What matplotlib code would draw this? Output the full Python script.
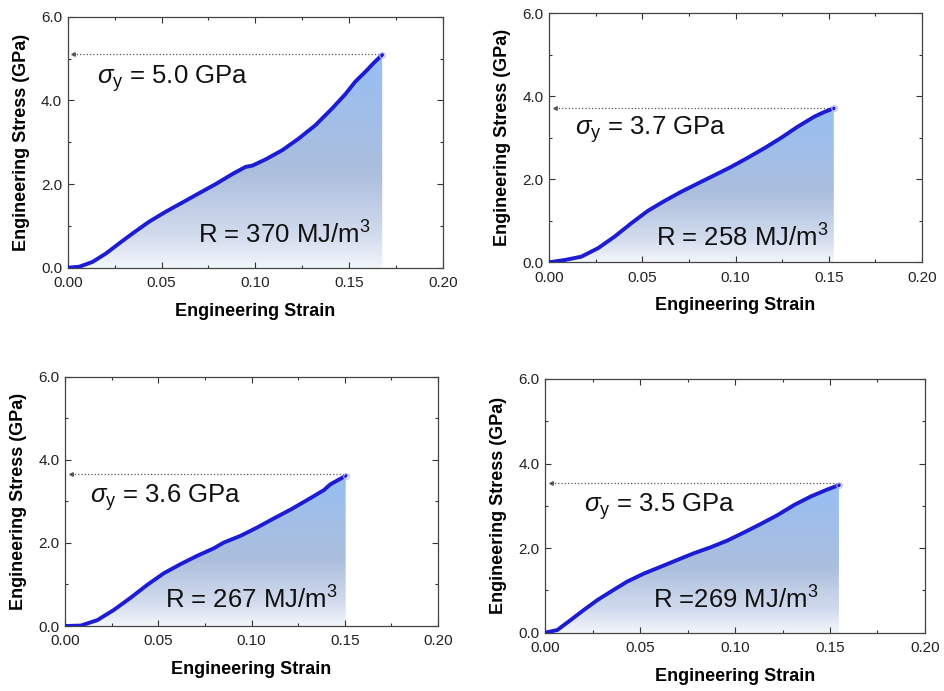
import numpy as np
import matplotlib
matplotlib.use('Agg')
import matplotlib.pyplot as plt
from matplotlib.colors import LinearSegmentedColormap
from matplotlib.ticker import AutoMinorLocator, MultipleLocator

plt.rcParams['font.family'] = ['Liberation Sans', 'DejaVu Sans']
plt.rcParams['mathtext.fontset'] = 'custom'
plt.rcParams['mathtext.rm'] = 'Liberation Sans'
plt.rcParams['mathtext.it'] = 'Liberation Sans:italic'

# Stress-strain curves
strain_a = [0, 0.0062, 0.0133, 0.0204, 0.0274, 0.0346, 0.0434, 0.0523, 0.0612, 0.070,
            0.0789, 0.0878, 0.0948, 0.0984, 0.1055, 0.1144, 0.1232, 0.1321, 0.141,
            0.148, 0.1533, 0.159, 0.163, 0.1676]
stress_a = [0, 0.024, 0.14, 0.34, 0.58, 0.82, 1.10, 1.34, 1.56, 1.78,
            2.00, 2.24, 2.41, 2.44, 2.59, 2.81, 3.09, 3.41, 3.81,
            4.15, 4.45, 4.70, 4.89, 5.09]

strain_b = [0, 0.0084, 0.0173, 0.0263, 0.0352, 0.0441, 0.053, 0.062, 0.0709, 0.0798,
            0.0888, 0.0977, 0.1066, 0.1155, 0.1245, 0.1334, 0.1423, 0.1475, 0.1527]
stress_b = [0, 0.055, 0.135, 0.34, 0.62, 0.94, 1.24, 1.48, 1.70, 1.90,
            2.10, 2.30, 2.52, 2.75, 3.00, 3.27, 3.51, 3.62, 3.71]

strain_c = [0, 0.0084, 0.0173, 0.0263, 0.0352, 0.0441, 0.053, 0.062, 0.0709, 0.0798,
            0.0852, 0.0941, 0.103, 0.112, 0.1209, 0.1298, 0.1388, 0.1423, 0.1495, 0.1505]
stress_c = [0, 0.01, 0.14, 0.39, 0.68, 0.99, 1.27, 1.49, 1.69, 1.87,
            2.01, 2.17, 2.37, 2.59, 2.80, 3.03, 3.27, 3.41, 3.59, 3.62]

strain_d = [0, 0.0065, 0.0135, 0.0205, 0.0275, 0.0346, 0.0433, 0.0521, 0.0609, 0.0696,
            0.0784, 0.0872, 0.096, 0.1047, 0.1135, 0.1223, 0.1311, 0.1398, 0.1482, 0.1547]
stress_d = [0, 0.064, 0.30, 0.54, 0.77, 0.97, 1.21, 1.40, 1.56, 1.72,
            1.88, 2.02, 2.18, 2.37, 2.57, 2.78, 3.02, 3.22, 3.38, 3.49]

dotted_levels = [5.10, 3.73, 3.65, 3.55]

yield_labels = [r'$\sigma_\mathrm{y}$ = 5.0 GPa', r'$\sigma_\mathrm{y}$ = 3.7 GPa',
                r'$\sigma_\mathrm{y}$ = 3.6 GPa', r'$\sigma_\mathrm{y}$ = 3.5 GPa']
resilience_labels = ['R = 370 MJ/m$^3$', 'R = 258 MJ/m$^3$',
                     'R = 267 MJ/m$^3$', 'R =269 MJ/m$^3$']

W, H = 944, 691
# axes boxes in pixels: left, right, top, bottom
boxes = [(67.7, 443, 16.7, 267.7), (549, 922, 13.3, 262.3),
         (65, 438, 376.7, 626), (545, 925, 379, 632.7)]
yield_pos = [(0.0154, 4.53), (0.0138, 3.19), (0.0134, 3.10), (0.0207, 2.97)]
res_pos = [(0.0695, 0.78), (0.0575, 0.58), (0.0536, 0.63), (0.057, 0.77)]

curves = [(strain_a, stress_a), (strain_b, stress_b), (strain_c, stress_c), (strain_d, stress_d)]

grad_cmap = LinearSegmentedColormap.from_list(
    'fillgrad', [(0, '#f3f6fb'), (0.15, '#d3dcee'), (0.45, '#abbedd'), (1.0, '#97bff4')])

fig = plt.figure(figsize=(W / 100, H / 100), dpi=100)

for i, (x, y) in enumerate(curves):
    l, r, t, b = boxes[i]
    ax = fig.add_axes([l / W, 1 - b / H, (r - l) / W, (b - t) / H])
    x = np.array(x)
    y = np.array(y)

    # gradient fill under the curve
    grad = np.linspace(0, 1, 256).reshape(-1, 1)
    im = ax.imshow(grad, extent=[0, x[-1], 0, y[-1]], aspect='auto', origin='lower',
                   cmap=grad_cmap, zorder=1)
    poly = ax.fill_between(x, y, 0, color='none', lw=0)
    im.set_clip_path(poly.get_paths()[0], transform=ax.transData)

    ax.plot(x, y, color='#1c1cd2', lw=2.8, zorder=3, solid_capstyle='round',
            solid_joinstyle='round')
    ax.plot(x[-1], y[-1], 'o', ms=4, mfc='none', mec='#b8b8f0', mew=0.8, zorder=4)

    # dotted line to the stress axis
    lvl = dotted_levels[i]
    ax.plot([0.003, x[-1]], [lvl, lvl], ls=':', color='#555555', lw=0.9, zorder=2)
    ax.plot(0.003, lvl, marker='<', ms=2.5, color='#555555', zorder=2)

    ax.text(yield_pos[i][0], yield_pos[i][1], yield_labels[i], fontsize=18.5,
            va='center', ha='left', color='#111111', zorder=5)
    ax.text(res_pos[i][0], res_pos[i][1], resilience_labels[i], fontsize=18.5,
            va='center', ha='left', color='#111111', zorder=5)

    ax.set_xlim(0, 0.20)
    ax.set_ylim(0, 6.0)
    ax.xaxis.set_major_locator(MultipleLocator(0.05))
    ax.yaxis.set_major_locator(MultipleLocator(2.0))
    ax.xaxis.set_minor_locator(AutoMinorLocator(2))
    ax.yaxis.set_minor_locator(AutoMinorLocator(2))
    ax.xaxis.set_major_formatter(plt.FormatStrFormatter('%.2f'))
    ax.yaxis.set_major_formatter(plt.FormatStrFormatter('%.1f'))
    ax.tick_params(which='both', direction='in', top=True, right=True,
                   color='#333333', labelsize=11, labelcolor='#222222', width=0.8)
    ax.tick_params(which='major', length=4)
    ax.tick_params(axis='x', which='major', pad=6)
    ax.tick_params(axis='y', which='major', pad=4)
    ax.tick_params(which='minor', length=2)
    for s in ax.spines.values():
        s.set_color('#444444')
        s.set_linewidth(0.9)

    ax.set_xlabel('Engineering Strain', fontsize=13, fontweight='bold', labelpad=9)
    ax.set_ylabel('Engineering Stress (GPa)', fontsize=13, fontweight='bold', labelpad=8)

fig.savefig('out.png', dpi=100)
